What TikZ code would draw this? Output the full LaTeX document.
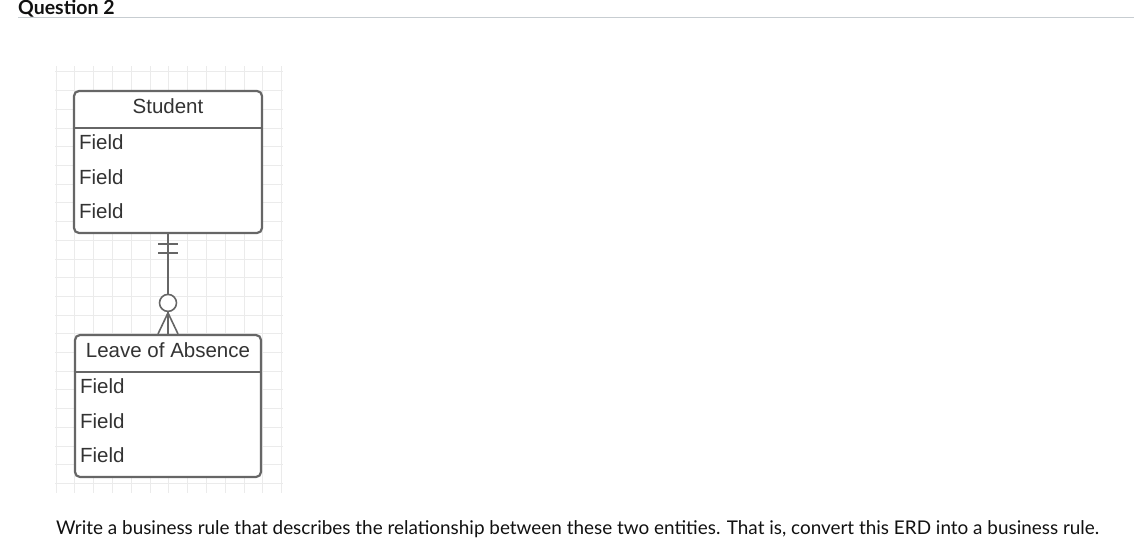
\documentclass[tikz,border=0pt]{standalone}
\usepackage{fontspec}
\setmainfont{Lato}
\newfontfamily\arialfont{Liberation Sans}
\usetikzlibrary{positioning}
\definecolor{erdline}{HTML}{666666}
\definecolor{erdtext}{HTML}{333333}
\definecolor{gridgray}{HTML}{EBEBEB}
\definecolor{rulegray}{HTML}{C7CDD1}
\definecolor{pagetext}{HTML}{111111}

\begin{document}
\begin{tikzpicture}[
	x=1pt, y=-1pt,
	entity/.style = {draw=erdline, line width=2.2pt, rounded corners=5pt, fill=white,
		minimum width=188pt, minimum height=142pt, inner sep=0pt},
	sep/.style = {draw=erdline, line width=2.2pt},
	head/.style = {font=\arialfont\fontsize{20.5}{24}\selectfont, text=erdtext, inner sep=0pt},
	field/.style = {font=\arialfont\fontsize{20.5}{24}\selectfont, text=erdtext, inner sep=0pt, anchor=west},
	conn/.style = {draw=erdline, line width=1.6pt},
	gridline/.style = {draw=gridgray, line width=1pt},
	sb1/.style = {yshift=-10pt},
	sb2/.style = {yshift=-19pt},
	sc/.style = {yshift=31pt},
	sa/.style = {yshift=21pt},
	sl/.style = {xshift=-10pt},
	sr/.style = {xshift=10pt},
	]
	\useasboundingbox (0,0) rectangle (1135,559);
%
	\node[font=\bfseries\fontsize{19.5}{23}\selectfont, text=pagetext, anchor=base west, inner sep=0pt]
		(q2) at (18,15) {Question 2};
	\coordinate (rulend) at (1134,18);
	\draw[rulegray, line width=1pt] (q2.west |- rulend) -- (rulend);
%
	\foreach \gx in {0,...,12}
		\draw[gridline] ({56+18.8*\gx},66) -- ({56+18.8*\gx},493);
	\foreach \gy in {0,...,22}
		\draw[gridline] (55,{72+18.7*\gy}) -- (283,{72+18.7*\gy});
%
	\node[entity] (stu) at (168,162) {};
	\draw[sep] ([yshift=-38pt] stu.north west) -- ([yshift=-38pt] stu.north east);
	\node[head] (stuT) at ([yshift=-16pt] stu.north) {Student};
	\foreach \fy in {52,87,121}
		\node[field] (stuF\fy) at ([xshift=6pt,yshift=-\fy pt] stu.north west) {Field};
%
	\node[entity, minimum width=186pt] (loa) at (168,406) {};
	\draw[sep] ([yshift=-38pt] loa.north west) -- ([yshift=-38pt] loa.north east);
	\node[head] (loaT) at ([yshift=-16pt] loa.north) {Leave of Absence};
	\foreach \fy in {52,87,121}
		\node[field] (loaF\fy) at ([xshift=6pt,yshift=-\fy pt] loa.north west) {Field};
%
	\draw[conn] (stu.south) -- (loa.north);
	\draw[conn] ([sb1,sl] stu.south) -- ([sb1,sr] stu.south);
	\draw[conn] ([sb2,sl] stu.south) -- ([sb2,sr] stu.south);
	\node[circle, conn, fill=white, minimum size=17pt, inner sep=0pt] (opt) at ([sc] loa.north) {};
	\draw[conn] ([sl] loa.north) -- ([sa] loa.north) -- ([sr] loa.north);
%
	\node[font=\fontsize{18.9}{22}\selectfont, text=pagetext, anchor=base west, inner sep=0pt]
		(rule) at (56,534) {Write a business rule that describes the relationship between these two entities. That is, convert this ERD into a business rule.};
\end{tikzpicture}
\end{document}
